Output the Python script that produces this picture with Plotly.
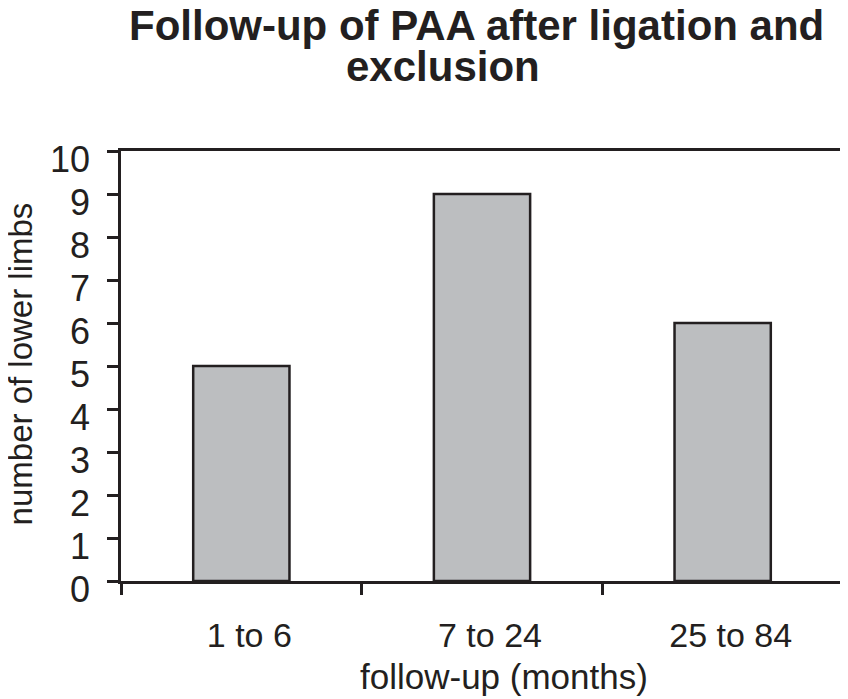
import plotly.graph_objects as go

categories = ["1 to 6", "7 to 24", "25 to 84"]
limbs = [5, 9, 6]
y_ticks = [0, 1, 2, 3, 4, 5, 6, 7, 8, 9, 10]
title_line1 = "Follow-up of PAA after ligation and"
title_line2 = "exclusion"
x_title = "follow-up (months)"
y_title = "number of lower limbs"

INK = "#231f20"
FONT = "Liberation Sans, Arial, sans-serif"

# page body has an 8px margin, so the figure is laid out 8px smaller/offset
OFF = 8
W, H = 848 - OFF, 699 - OFF
PL, PT, PW, PH = 121, 151, 725, 430  # plot area in screen pixels

fig = go.Figure(
    go.Bar(
        x=categories,
        y=limbs,
        marker=dict(color="#bcbec0", line=dict(color=INK, width=2.5)),
        hoverinfo="skip",
    )
)

fig.update_layout(
    width=W,
    height=H,
    margin=dict(l=PL - OFF, r=W - (PL - OFF) - PW, t=PT - OFF, b=H - (PT - OFF) - PH),
    paper_bgcolor="white",
    plot_bgcolor="white",
    bargap=0.6,
    showlegend=False,
    font=dict(family=FONT, color=INK),
)

fig.update_xaxes(
    type="category",
    tickson="boundaries",
    ticks="outside",
    ticklen=11,
    tickwidth=2.5,
    tickcolor=INK,
    showline=True,
    linecolor=INK,
    linewidth=2.5,
    mirror=True,
    showgrid=False,
    tickfont=dict(family=FONT, size=34, color=INK),
    ticklabelshift=8,
    ticklabelstandoff=22,
)

fig.update_yaxes(
    range=[0, 10],
    tickvals=y_ticks,
    ticks="outside",
    ticklen=11,
    tickwidth=2.5,
    tickcolor=INK,
    showline=True,
    linecolor=INK,
    linewidth=2.5,
    mirror=True,
    showgrid=False,
    zeroline=False,
    tickfont=dict(family=FONT, size=36, color=INK),
    ticklabelshift=8,
    ticklabelstandoff=10,
)


def px(sx):
    return (sx - PL) / PW


def py(sy):
    return (PT + PH - sy) / PH


fig.add_annotation(
    text=f"<b>{title_line1}</b>", xref="paper", yref="paper",
    x=px(478), y=py(26), xanchor="center", yanchor="middle",
    showarrow=False, font=dict(family=FONT, size=42, color=INK),
)
fig.add_annotation(
    text=f"<b>{title_line2}</b>", xref="paper", yref="paper",
    x=px(444), y=py(66), xanchor="center", yanchor="middle",
    showarrow=False, font=dict(family=FONT, size=42, color=INK),
)
fig.add_annotation(
    text=x_title, xref="paper", yref="paper",
    x=px(506), y=py(676), xanchor="center", yanchor="middle",
    showarrow=False, font=dict(family=FONT, size=35, color=INK),
)
fig.add_annotation(
    text=y_title, xref="paper", yref="paper", textangle=-90,
    x=px(20), y=py(364), xanchor="center", yanchor="middle",
    showarrow=False, font=dict(family=FONT, size=33, color=INK),
)

fig.write_html("out.html")
